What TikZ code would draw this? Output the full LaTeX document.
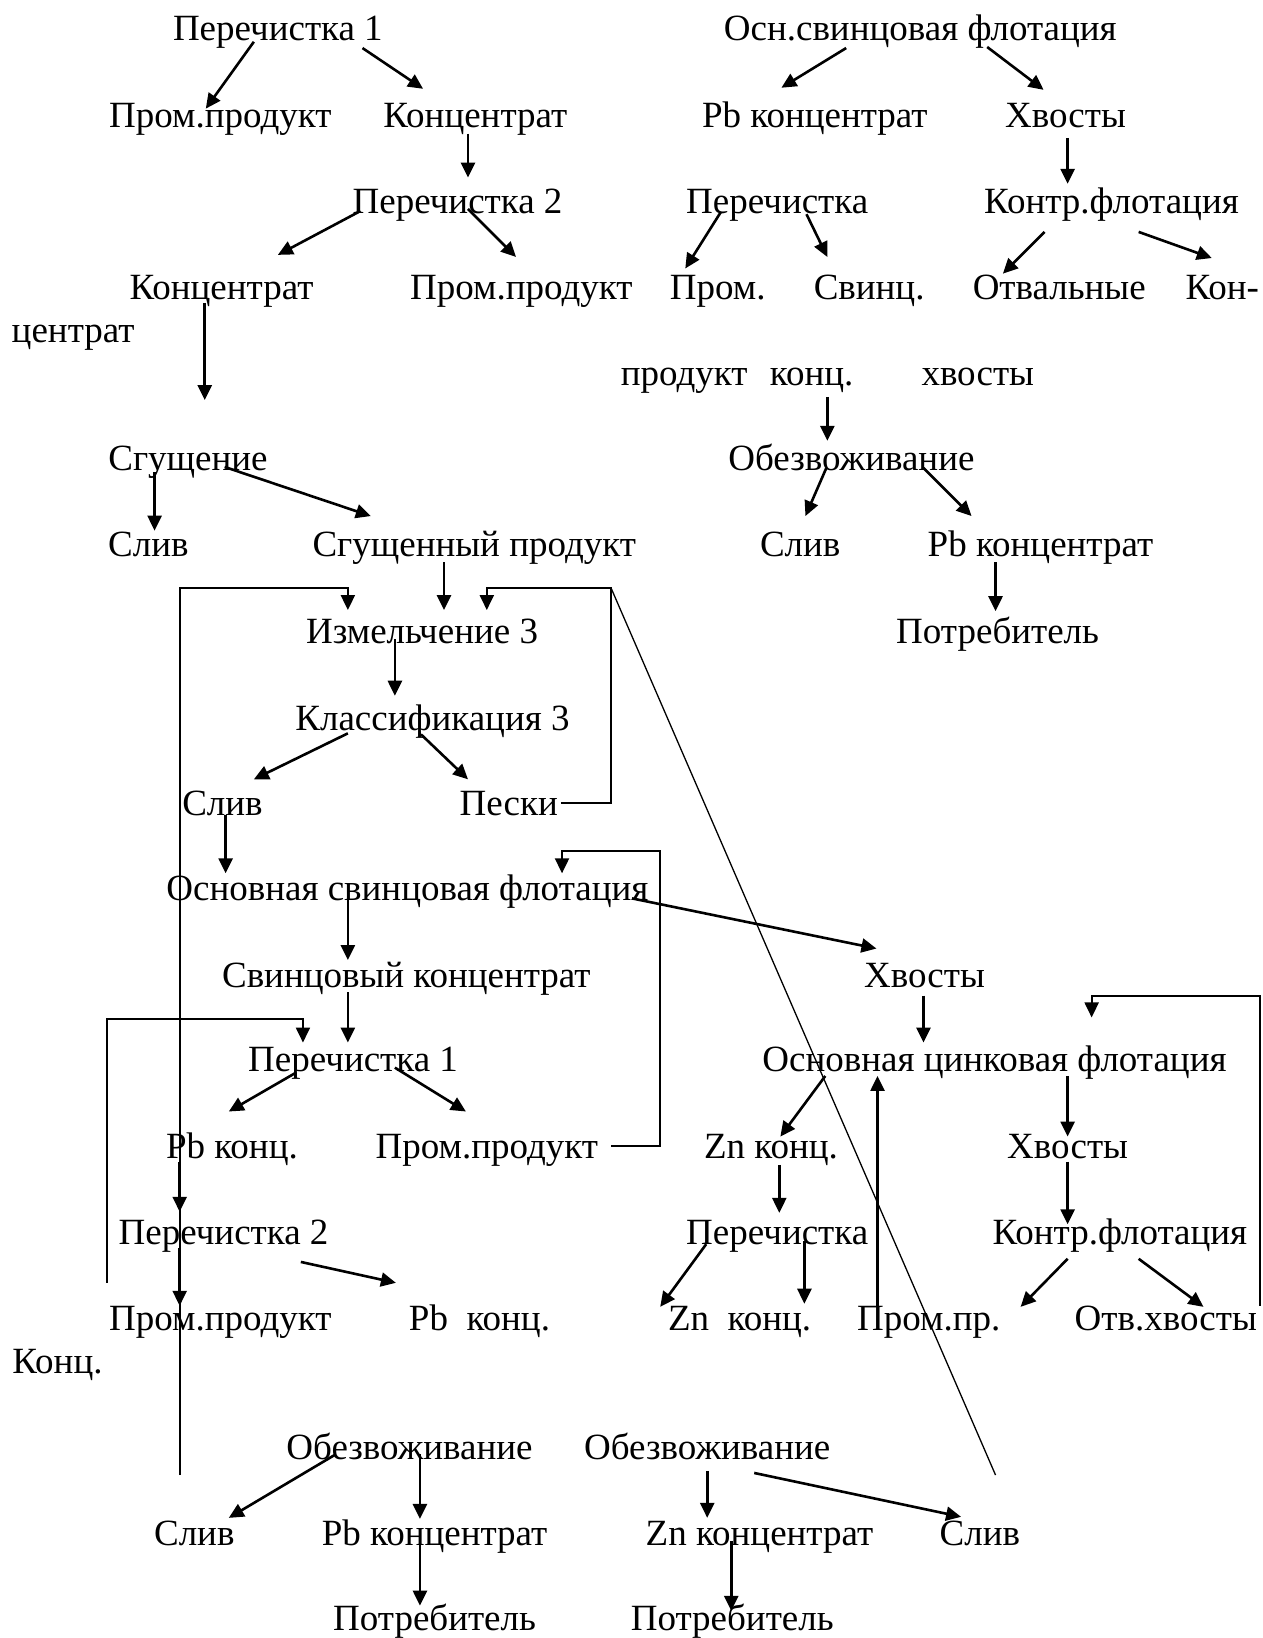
\documentclass[tikz,border=0pt]{standalone}
\usepackage{fontspec}
\setmainfont{Liberation Serif}
\usetikzlibrary{arrows.meta}
\tikzset{
  lbl/.style={anchor=base,inner sep=0pt,font=\fontsize{37}{44}\selectfont},
  arr/.style={line width=2.6pt,-{Triangle[length=15pt,width=14pt]}},
  lnarr/.style={line width=2.0pt,-{Triangle[length=15pt,width=14pt]}},
  ln/.style={line width=2.0pt},
  thinln/.style={line width=1.3pt}
}
\begin{document}
\begin{tikzpicture}[x=1.0447pt,y=-1.0447pt]
\useasboundingbox[fill=white] (0,0) rectangle (1209,1568);
% ---------- top left
\node[lbl] (tl1) at (266,39) {Перечистка 1};
\node[lbl] (tl2) at (211,122) {Пром.продукт};
\node[lbl] (tl3) at (455,122) {Концентрат};
\node[lbl] (tl4) at (438,204) {Перечистка 2};
\node[lbl] (tl5) at (212,287) {Концентрат};
\node[lbl] (tl6) at (499,287) {Пром.продукт};
\node[lbl] (tl7) at (70,328) {центрат};
% ---------- top right
\node[lbl] (tr1) at (881,39) {Осн.свинцовая флотация};
\node[lbl] (tr2) at (780,122) {Pb концентрат};
\node[lbl] (tr3) at (1020,122) {Хвосты};
\node[lbl] (tr4) at (744,204) {Перечистка};
\node[lbl] (tr5) at (1064,204) {Контр.флотация};
\node[lbl] (tr6) at (687,287) {Пром.};
\node[lbl] (tr7) at (832,287) {Свинц.};
\node[lbl] (tr8) at (1014,287) {Отвальные};
\node[lbl] (tr9) at (1170,287) {Кон-};
\node[lbl] (tr10) at (655,369) {продукт};
\node[lbl] (tr11) at (777,369) {конц.};
\node[lbl] (tr12) at (936,369) {хвосты};
\node[lbl] (tr13) at (815,450) {Обезвоживание};
\node[lbl] (tr14) at (766,533) {Слив};
\node[lbl] (tr15) at (996,533) {Pb концентрат};
\node[lbl] (tr16) at (955,616) {Потребитель};
% ---------- middle
\node[lbl] (m1) at (180,450) {Сгущение};
\node[lbl] (m2) at (142,533) {Слив};
\node[lbl] (m3) at (454,533) {Сгущенный продукт};
\node[lbl] (m4) at (404,616) {Измельчение 3};
\node[lbl] (m5) at (414,699) {Классификация 3};
\node[lbl] (m6) at (213,781) {Слив};
\node[lbl] (m7) at (487,781) {Пески};
\node[lbl] (m8) at (390,862) {Основная свинцовая флотация};
\node[lbl] (m9) at (389,945) {Свинцовый концентрат};
\node[lbl] (m10) at (885,945) {Хвосты};
\node[lbl] (m11) at (338,1026) {Перечистка 1};
\node[lbl] (m12) at (952,1026) {Основная цинковая флотация};
\node[lbl] (m13) at (222,1109) {Pb конц.};
\node[lbl] (m14) at (466,1109) {Пром.продукт};
\node[lbl] (m15) at (738,1109) {Zn конц.};
\node[lbl] (m16) at (1022,1109) {Хвосты};
\node[lbl] (m17) at (214,1191) {Перечистка 2};
\node[lbl] (m18) at (744,1191) {Перечистка};
\node[lbl] (m19) at (1072,1191) {Контр.флотация};
\node[lbl] (m20) at (211,1274) {Пром.продукт};
\node[lbl] (m21) at (459,1274) {Pb\ \ конц.};
\node[lbl] (m22) at (708,1274) {Zn\ \ конц.};
\node[lbl] (m23) at (889,1274) {Пром.пр.};
\node[lbl] (m24) at (1116,1274) {Отв.хвосты};
\node[lbl] (m25) at (55,1315) {Конц.};
% ---------- bottom
\node[lbl] (b1) at (392,1397) {Обезвоживание};
\node[lbl] (b2) at (677,1397) {Обезвоживание};
\node[lbl] (b3) at (186,1479) {Слив};
\node[lbl] (b4) at (416,1479) {Pb концентрат};
\node[lbl] (b5) at (727,1479) {Zn концентрат};
\node[lbl] (b6) at (938,1479) {Слив};
\node[lbl] (b7) at (416,1561) {Потребитель};
\node[lbl] (b8) at (701,1561) {Потребитель};
% ---------- arrow end points
\coordinate (a1s) at (243,40);   \coordinate (a1e) at (197,104);
\coordinate (a2s) at (347,46);   \coordinate (a2e) at (405,85);
\coordinate (a3s) at (448,128);  \coordinate (a3e) at (448,170);
\coordinate (a4s) at (345,202);  \coordinate (a4e) at (266,244);
\coordinate (a5s) at (448,200);  \coordinate (a5e) at (494,246);
\coordinate (a6s) at (196,290);  \coordinate (a6e) at (196,383);
\coordinate (b1s) at (810,46);   \coordinate (b1e) at (748,84);
\coordinate (b2s) at (945,45);   \coordinate (b2e) at (999,86);
\coordinate (b3s) at (1022,132); \coordinate (b3e) at (1022,176);
\coordinate (b4s) at (690,203);  \coordinate (b4e) at (656,257);
\coordinate (b5s) at (772,205);  \coordinate (b5e) at (792,246);
\coordinate (b6s) at (1000,222); \coordinate (b6e) at (960,262);
\coordinate (b7s) at (1090,222); \coordinate (b7e) at (1160,247);
\coordinate (b8s) at (792,380);  \coordinate (b8e) at (792,422);
\coordinate (b9s) at (791,448);  \coordinate (b9e) at (771,494);
\coordinate (b10s) at (884,448); \coordinate (b10e) at (930,494);
\coordinate (b11s) at (953,538); \coordinate (b11e) at (953,585);
\coordinate (c1s) at (148,452);  \coordinate (c1e) at (148,508);
\coordinate (c2s) at (215,447);  \coordinate (c2e) at (355,494);
\coordinate (c3s) at (425,538);  \coordinate (c3e) at (425,584);
\coordinate (lLs) at (172,1412); \coordinate (lL1) at (172,563); \coordinate (lL2) at (333,563); \coordinate (lLe) at (333,584);
\coordinate (lRs) at (537,769);  \coordinate (lR1) at (585,769); \coordinate (lR2) at (585,563); \coordinate (lR3) at (466,563); \coordinate (lRe) at (466,584);
\coordinate (dge) at (953,1412);
\coordinate (c6s) at (378,612);  \coordinate (c6e) at (378,666);
\coordinate (c7s) at (333,702);  \coordinate (c7e) at (243,746);
\coordinate (c8s) at (403,703);  \coordinate (c8e) at (448,746);
\coordinate (c9s) at (216,780);  \coordinate (c9e) at (216,836);
\coordinate (c10s) at (333,855); \coordinate (c10e) at (333,919);
\coordinate (c11s) at (605,860); \coordinate (c11e) at (839,908);
\coordinate (c12s) at (333,950); \coordinate (c12e) at (333,998);
\coordinate (c13s) at (283,1027);\coordinate (c13e) at (219,1064);
\coordinate (c14s) at (378,1022);\coordinate (c14e) at (446,1064);
\coordinate (l2s) at (585,1097); \coordinate (l21) at (632,1097); \coordinate (l22) at (632,815); \coordinate (l23) at (538,815); \coordinate (l2e) at (538,836);
\coordinate (l3s) at (102,1228); \coordinate (l31) at (102,975); \coordinate (l32) at (290,975); \coordinate (l3e) at (290,998);
\coordinate (c15s) at (172,1112);\coordinate (c15e) at (172,1160);
\coordinate (c16s) at (172,1195);\coordinate (c16e) at (172,1250);
\coordinate (c17s) at (288,1208);\coordinate (c17e) at (379,1228);
\coordinate (c18s) at (884,953); \coordinate (c18e) at (884,998);
\coordinate (l4s) at (1206,1250);\coordinate (l41) at (1206,953); \coordinate (l42) at (1045,953); \coordinate (l4e) at (1045,974);
\coordinate (c20s) at (790,1030);\coordinate (c20e) at (747,1088);
\coordinate (c21s) at (1022,1030);\coordinate (c21e) at (1022,1088);
\coordinate (c22s) at (746,1115);\coordinate (c22e) at (746,1161);
\coordinate (c23s) at (1022,1112);\coordinate (c23e) at (1022,1172);
\coordinate (c24s) at (676,1191);\coordinate (c24e) at (632,1251);
\coordinate (c25s) at (770,1188);\coordinate (c25e) at (770,1248);
\coordinate (c26s) at (840,1250);\coordinate (c26e) at (840,1030);
\coordinate (c27s) at (1022,1205);\coordinate (c27e) at (977,1251);
\coordinate (c28s) at (1090,1205);\coordinate (c28e) at (1152,1251);
\coordinate (d1s) at (320,1393); \coordinate (d1e) at (219,1453);
\coordinate (d2s) at (402,1392); \coordinate (d2e) at (402,1454);
\coordinate (d3s) at (402,1475); \coordinate (d3e) at (402,1537);
\coordinate (d4s) at (677,1408); \coordinate (d4e) at (677,1453);
\coordinate (d5s) at (722,1410); \coordinate (d5e) at (920,1452);
\coordinate (d6s) at (700,1475); \coordinate (d6e) at (700,1542);
% ---------- arrows
\foreach \a in {a1,a2,a3,a4,a5,a6,b1,b2,b3,b4,b5,b6,b7,b8,b9,b10,b11,
  c1,c2,c3,c6,c7,c8,c9,c10,c11,c12,c13,c14,c15,c16,c17,c18,
  c20,c21,c22,c23,c24,c25,c26,c27,c28,d1,d2,d3,d4,d5,d6}
  \draw[arr] (\a s) -- (\a e);
% ---------- recycle loops
\draw[lnarr] (lLs) -- (lL1) -- (lL2) -- (lLe);
\draw[lnarr] (lRs) -- (lR1) -- (lR2) -- (lR3) -- (lRe);
\draw[thinln] (lR2) -- (dge);
\draw[lnarr] (l2s) -- (l21) -- (l22) -- (l23) -- (l2e);
\draw[lnarr] (l3s) -- (l31) -- (l32) -- (l3e);
\draw[lnarr] (l4s) -- (l41) -- (l42) -- (l4e);
\end{tikzpicture}
\end{document}
